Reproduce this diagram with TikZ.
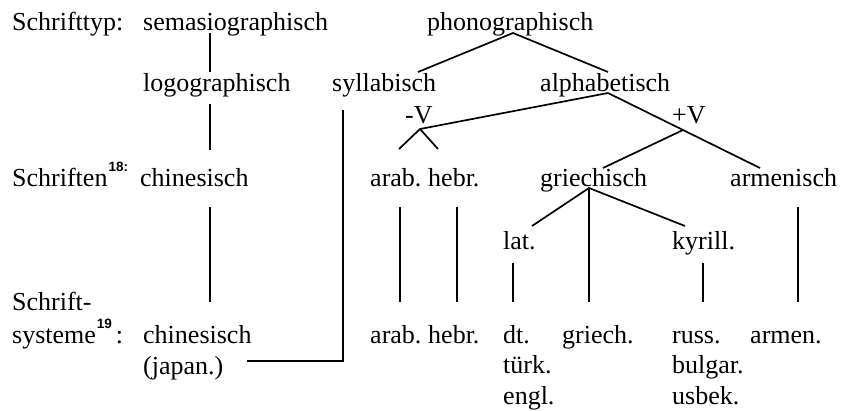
\documentclass[tikz,border=0pt]{standalone}
\usepackage{fontspec}
\setmainfont{Liberation Serif}
\newfontfamily\notefont{Liberation Sans}
\newcommand{\fnmark}[1]{\raisebox{15pt}{\fontsize{13.5}{13.5}\selectfont\notefont\bfseries #1}}
\begin{document}
\begin{tikzpicture}[x=1pt,y=-1pt,
  lbl/.style={anchor=base west, inner sep=0pt, font=\fontsize{26}{31}\selectfont},
  edge/.style={line width=1.7pt, line cap=butt, line join=miter}]
\useasboundingbox (0,0) rectangle (842,410);

% --- row labels ---
\node[lbl] (typ)   at (12,30)  {Schrifttyp:};
\node[lbl] (schr)  at (12,186) {Schriften\hspace{1pt}\fnmark{18:}};
\node[lbl] (sys1)  at (12,310) {Schrift-};
\node[lbl] (sys2)  at (12,343) {systeme\hspace{1pt}\fnmark{19}\hspace{4pt}:};

% --- script types ---
\node[lbl] (sema)  at (143,30)  {semasiographisch};
\node[lbl] (phono) at (427,30)  {phonographisch};
\node[lbl] (logo)  at (143,91)  {logographisch};
\node[lbl] (syll)  at (332,91)  {syllabisch};
\node[lbl] (alpha) at (540,91)  {alphabetisch};
\node[lbl] (minv)  at (405,123) {-V};
\node[lbl] (plusv) at (672,123) {+V};

% --- scripts ---
\node[lbl] (chin)  at (140,186) {chinesisch};
\node[lbl] (arab)  at (370,186) {arab.};
\node[lbl] (hebr)  at (428,186) {hebr.};
\node[lbl] (griech) at (540,186) {griechisch};
\node[lbl] (armen) at (730,186) {armenisch};
\node[lbl] (lat)   at (503,249) {lat.};
\node[lbl] (kyr)   at (672,249) {kyrill.};

% --- writing systems ---
\node[lbl] (schin) at (143,343) {chinesisch};
\node[lbl] (sjap)  at (143,374) {(japan.)};
\node[lbl] (sarab) at (370,343) {arab.};
\node[lbl] (shebr) at (428,343) {hebr.};
\node[lbl] (sdt)   at (503,343) {dt.};
\node[lbl] (stuerk) at (503,373) {türk.};
\node[lbl] (sengl) at (503,404) {engl.};
\node[lbl] (sgr)   at (562,343) {griech.};
\node[lbl] (sruss) at (672,343) {russ.};
\node[lbl] (sbulg) at (672,373) {bulgar.};
\node[lbl] (susb)  at (672,404) {usbek.};
\node[lbl] (sarm)  at (750,343) {armen.};

% --- branching points and line ends ---
\coordinate (semaB)  at (210,33);
\coordinate (logoT)  at (210,72);
\coordinate (logoB)  at (210,104);
\coordinate (chinT)  at (210,150);
\coordinate (chinB)  at (210,207);
\coordinate (schinT) at (210,302);
\coordinate (phonoB) at (513,33);
\coordinate (syllT)  at (418,72);
\coordinate (alphaT) at (608,72);
\coordinate (alphaB) at (608,93);
\coordinate (syllB)  at (343,110);
\coordinate (corner) at (343,361);
\coordinate (sjapR)  at (247,361);
\coordinate (minvB)  at (420,129);
\coordinate (arabT)  at (399,149);
\coordinate (hebrT)  at (438,149);
\coordinate (plusvB) at (683,130);
\coordinate (armenT) at (760,168);
\coordinate (griechT) at (603,168);
\coordinate (griechB) at (589,188);
\coordinate (latT)   at (532,226);
\coordinate (kyrT)   at (685,226);
\coordinate (sgrT)   at (589,302);
\coordinate (arabB)  at (400,207);
\coordinate (sarabT) at (400,302);
\coordinate (hebrB)  at (457,207);
\coordinate (shebrT) at (457,302);
\coordinate (latB)   at (513,263);
\coordinate (sdtT)   at (513,302);
\coordinate (kyrB)   at (703,263);
\coordinate (srussT) at (703,302);
\coordinate (armenB) at (798,207);
\coordinate (sarmT)  at (798,302);

% --- tree edges ---
\draw[edge] (semaB) -- (logoT);
\draw[edge] (logoB) -- (chinT);
\draw[edge] (chinB) -- (schinT);
\draw[edge] (syllT) -- (phonoB) -- (alphaT);
\draw[edge] (syllB) -- (corner) -- (sjapR);
\draw[edge] (alphaB) -- (minvB);
\draw[edge] (arabT) -- (minvB) -- (hebrT);
\draw[edge] (alphaB) -- (plusvB) -- (armenT);
\draw[edge] (plusvB) -- (griechT);
\draw[edge] (latT) -- (griechB) -- (kyrT);
\draw[edge] (griechB) -- (sgrT);
\draw[edge] (arabB) -- (sarabT);
\draw[edge] (hebrB) -- (shebrT);
\draw[edge] (latB) -- (sdtT);
\draw[edge] (kyrB) -- (srussT);
\draw[edge] (armenB) -- (sarmT);
\end{tikzpicture}
\end{document}
